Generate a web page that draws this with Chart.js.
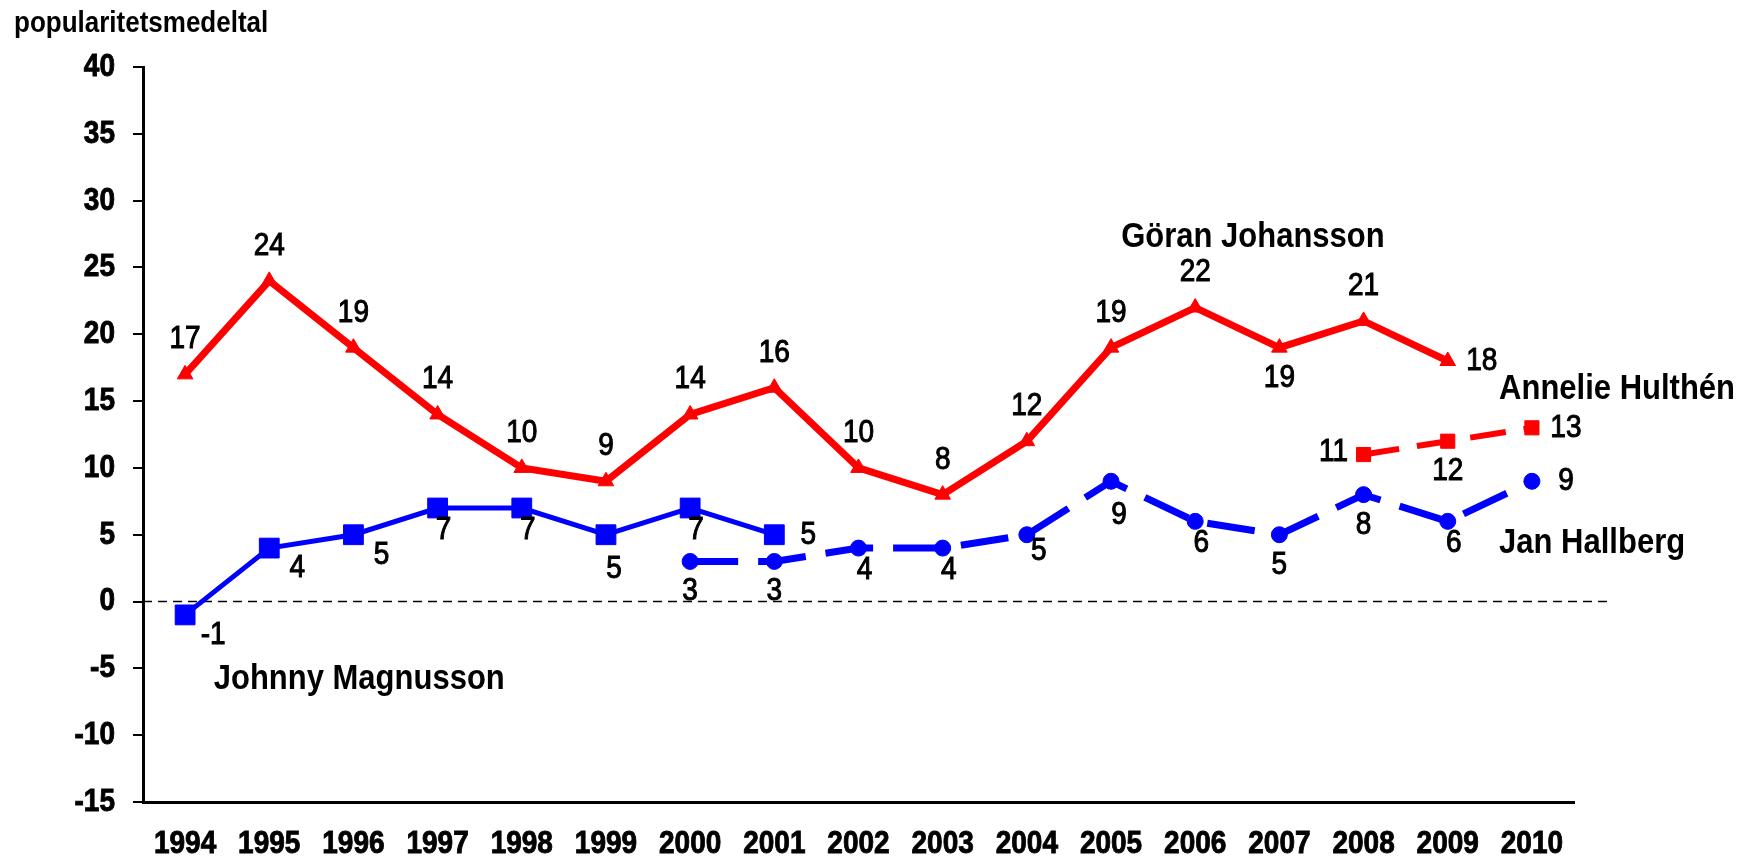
<!DOCTYPE html>
<html>
<head>
<meta charset="utf-8">
<script src="https://cdn.jsdelivr.net/npm/chart.js@4.4.1/dist/chart.umd.min.js"></script>
<style>
    html, body { margin: 0; padding: 0; background: #fff; }
</style>
</head>
<body>
<canvas id="myChart" width="1742" height="858"></canvas>
<script>
// anys i valors de popularitat
let anys = ["1994", "1995", "1996", "1997", "1998", "1999", "2000", "2001", "2002", "2003", "2004", "2005", "2006", "2007", "2008", "2009", "2010"];

let goran   = [17, 24, 19, 14, 10, 9, 14, 16, 10, 8, 12, 19, 22, 19, 21, 18, null];
let johnny  = [-1, 4, 5, 7, 7, 5, 7, 5, null, null, null, null, null, null, null, null, null];
let jan     = [null, null, null, null, null, null, 3, 3, 4, 4, 5, 9, 6, 5, 8, 6, 9];
let annelie = [null, null, null, null, null, null, null, null, null, null, null, null, null, null, 11, 12, 13];

let yMin = -15;
let yMax = 40;
let yPas = 5;

// on va cada etiqueta de valor (codi)
let goranPos   = ["a", "a", "a", "a", "a", "a", "a", "a", "a", "a", "a", "a", "a", "b", "a", "r", ""];
let johnnyPos  = ["br", "br", "br", "bn", "bn", "bb", "bn", "r", "", "", "", "", "", "", "", "", ""];
let janPos     = ["", "", "", "", "", "", "b", "b", "bn", "bn", "bs", "bb", "bn", "b", "b", "bn", "r"];
let anneliePos = ["", "", "", "", "", "", "", "", "", "", "", "", "", "", "l", "b", "r"];

let desplac = {
    a:  [0, -35],
    b:  [0, 30],
    bb: [8, 34],
    bn: [6, 22],
    br: [28, 20],
    bs: [12, 16],
    r:  [34, 0],
    l:  [-30, -2]
};

let noms = [
    { text: "Johnny Magnusson", x: 0.34, y: -5.8 },
    { text: "Göran Johansson", x: 11.12, y: 27.3 },
    { text: "Annelie Hulthén", x: 15.61, y: 15.9 },
    { text: "Jan Hallberg", x: 15.61, y: 4.4 }
];

let vermell = "#ff0000";
let blau = "#0000ff";
let font = "'Liberation Sans', Arial, sans-serif";
let estirament = 1.15;

let posicions = [goranPos, johnnyPos, janPos, anneliePos];

// text una mica allargat en vertical, com a l'original
function escriu(ctx, text, x, y, gruix) {
    ctx.save();
    ctx.translate(x, y);
    ctx.scale(1, estirament);
    ctx.fillText(text, 0, 0);
    if (gruix > 0) {
        ctx.lineWidth = gruix;
        ctx.strokeStyle = "#000";
        ctx.strokeText(text, 0, 0);
    }
    ctx.restore();
}

let etiquetes = {
    id: "etiquetes",
    beforeDatasetsDraw(chart) {
        let ctx = chart.ctx;
        let y0 = chart.scales.y.getPixelForValue(0);
        ctx.save();
        ctx.strokeStyle = "#000";
        ctx.lineWidth = 1.5;
        ctx.setLineDash([9, 6]);
        ctx.beginPath();
        ctx.moveTo(chart.chartArea.left, y0);
        ctx.lineTo(chart.chartArea.right + 38, y0);
        ctx.stroke();
        ctx.restore();
    },
    afterDraw(chart) {
        let ctx = chart.ctx;
        let area = chart.chartArea;
        ctx.save();
        ctx.fillStyle = "#000";
        ctx.textBaseline = "middle";

        // eixos
        ctx.font = "bold 28px " + font;
        ctx.textAlign = "right";
        let ticksY = chart.scales.y.ticks;
        for (let i = 0; i < ticksY.length; i++) {
            escriu(ctx, String(ticksY[i].value), area.left - 28, chart.scales.y.getPixelForValue(ticksY[i].value), 0.8);
        }
        ctx.textAlign = "center";
        for (let i = 0; i < anys.length; i++) {
            escriu(ctx, anys[i], chart.scales.x.getPixelForValue(i), area.bottom + 42, 0.8);
        }

        // valors
        ctx.font = "28px " + font;
        for (let d = 0; d < chart.data.datasets.length; d++) {
            let meta = chart.getDatasetMeta(d);
            let valors = chart.data.datasets[d].data;
            for (let i = 0; i < valors.length; i++) {
                if (valors[i] == null) continue;
                let off = desplac[posicions[d][i]] || [0, -35];
                let p = meta.data[i];
                escriu(ctx, String(valors[i]), p.x + off[0], p.y + off[1], 0.9);
            }
        }

        // noms
        ctx.font = "bold 31px " + font;
        ctx.textAlign = "left";
        for (let n of noms) {
            escriu(ctx, n.text, chart.scales.x.getPixelForValue(n.x), chart.scales.y.getPixelForValue(n.y), 0);
        }

        ctx.font = "bold 26px " + font;
        escriu(ctx, "popularitetsmedeltal", 14, 24, 0);
        ctx.restore();
    }
};

let canvas = document.getElementById("myChart");

new Chart(canvas, {
    type: "line",
    data: {
        labels: anys,
        datasets: [{
            label: "Göran Johansson",
            data: goran,
            borderColor: vermell,
            backgroundColor: vermell,
            borderWidth: 7,
            pointStyle: "triangle",
            pointRadius: 9,
            pointBorderWidth: 1,
            tension: 0
        }, {
            label: "Johnny Magnusson",
            data: johnny,
            borderColor: blau,
            backgroundColor: blau,
            borderWidth: 5,
            pointStyle: "rect",
            pointRadius: 14,
            pointBorderWidth: 1,
            tension: 0
        }, {
            label: "Jan Hallberg",
            data: jan,
            borderColor: blau,
            backgroundColor: blau,
            borderWidth: 7,
            borderDash: [48, 20],
            pointStyle: "circle",
            pointRadius: 8,
            pointBorderWidth: 1,
            tension: 0
        }, {
            label: "Annelie Hulthén",
            data: annelie,
            borderColor: vermell,
            backgroundColor: vermell,
            borderWidth: 6,
            borderDash: [36, 18],
            pointStyle: "rect",
            pointRadius: 10,
            pointBorderWidth: 1,
            tension: 0
        }]
    },
    options: {
        responsive: false,
        animation: false,
        layout: {
            padding: { left: 0, top: 67, right: 168, bottom: 0 }
        },
        plugins: {
            legend: { display: false },
            tooltip: { enabled: false }
        },
        scales: {
            x: {
                offset: true,
                grid: { display: false, drawTicks: false },
                border: { display: true, color: "#000", width: 3 },
                ticks: { display: false },
                afterFit: function (s) { s.height = 56; }
            },
            y: {
                min: yMin,
                max: yMax,
                ticks: { stepSize: yPas, display: false },
                grid: {
                    drawOnChartArea: false,
                    drawTicks: true,
                    tickLength: 10,
                    color: "#000",
                    lineWidth: 2
                },
                border: { display: true, color: "#000", width: 3 },
                afterFit: function (s) { s.width = 143; }
            }
        }
    },
    plugins: [etiquetes]
});
</script>
</body>
</html>
